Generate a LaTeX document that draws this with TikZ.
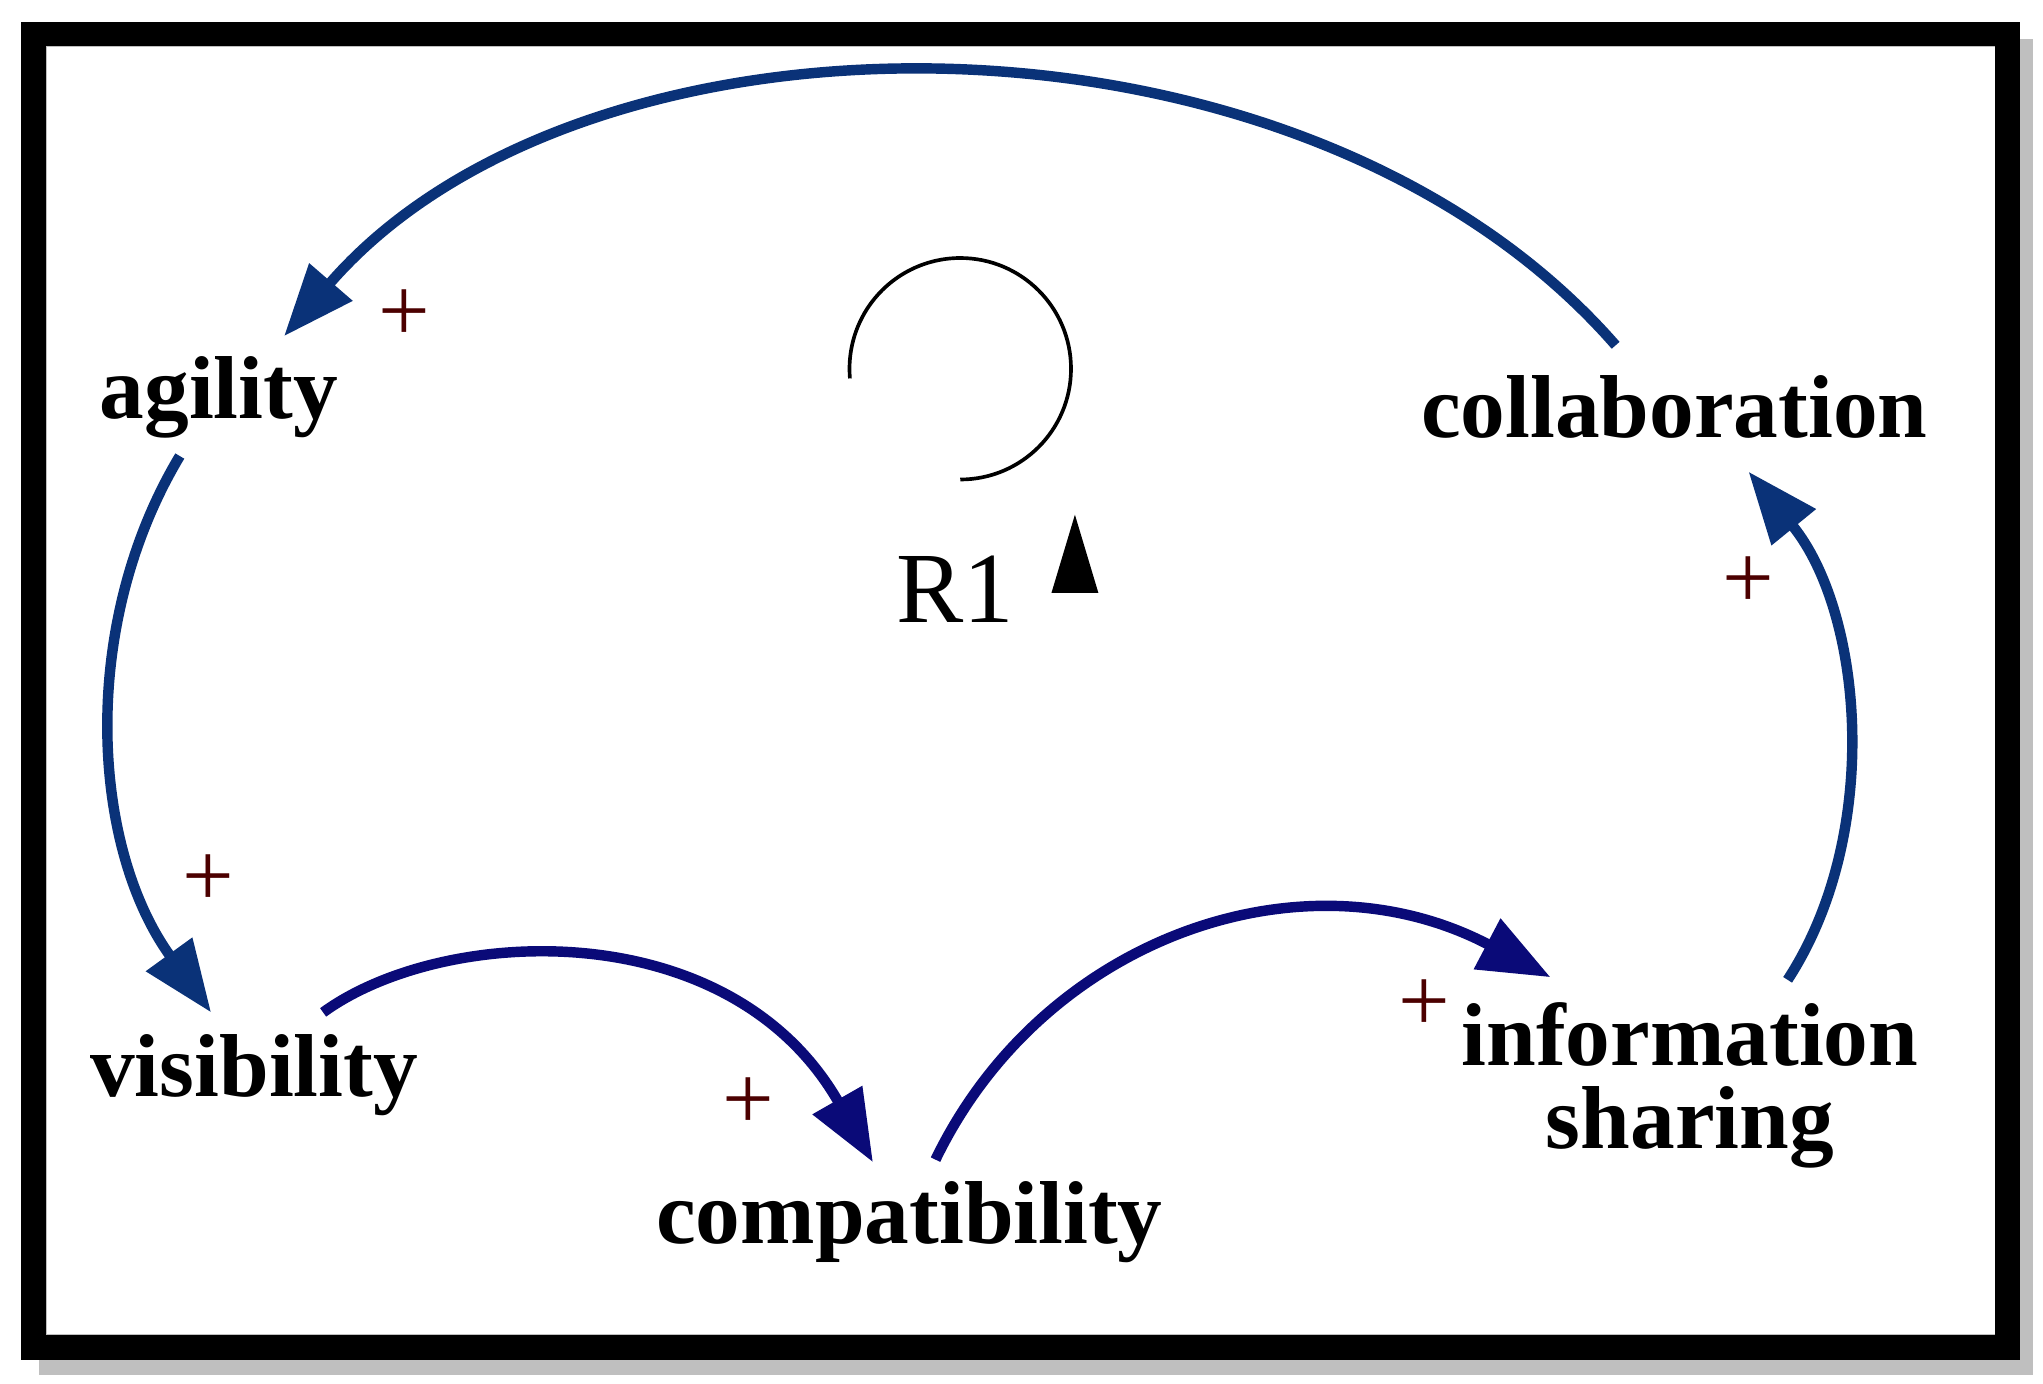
\documentclass[tikz,border=0pt]{standalone}
\usepackage{fontspec}
\setmainfont{Liberation Serif}
\usetikzlibrary{arrows.meta}
\definecolor{cblue}{RGB}{10,50,120}
\definecolor{cnavy}{RGB}{10,10,120}
\begin{document}
\begin{tikzpicture}[x=0.01cm,y=-0.01cm,
  lbl/.style={font=\fontsize{19.5}{22}\selectfont\bfseries, align=center},
  pls/.style={font=\fontsize{20}{22}\selectfont, text=black!70!red},
  link/.style={line width=0.08cm, -{Triangle[length=0.55cm,width=0.42cm]}}]
\useasboundingbox (0,0) rectangle (1568,1062);
\fill[black!25] (30,30) rectangle (1560,1055);
\fill[white] (36,36) rectangle (1532,1024);
\draw[line width=0.19cm] (26,26) rectangle (1541,1034);
\node[lbl] (ag) at (168,305) {agility};
\node[lbl] (co) at (1285,312) {collaboration};
\node[lbl] (vi) at (195,825) {visibility};
\node[lbl] (cp) at (698,938) {compatibility};
\node[lbl] (is) at (1297,833) {information\\[-4pt]sharing};
\coordinate (a1) at (1240,265); \coordinate (a2) at (218,258);
\coordinate (b1) at (138,350); \coordinate (b2) at (162,777);
\coordinate (c1) at (248,777); \coordinate (c2) at (670,892);
\coordinate (d1) at (718,890); \coordinate (d2) at (1190,750);
\coordinate (e1) at (1372,752); \coordinate (e2) at (1342,362);
\draw[link,cblue] (a1) .. controls (1000,-10) and (450,-10) .. (a2);
\draw[link,cblue] (b1) .. controls (60,480) and (70,650) .. (b2);
\draw[link,cnavy] (c1) .. controls (340,710) and (560,700) .. (c2);
\draw[link,cnavy] (d1) .. controls (800,720) and (1000,650) .. (d2);
\draw[link,cblue] (e1) .. controls (1445,640) and (1430,470) .. (e2);
\node[pls] (p1) at (310,242) {+};
\node[pls] (p2) at (160,676) {+};
\node[pls] (p3) at (574,847) {+};
\node[pls] (p4) at (1093,772) {+};
\node[pls] (p5) at (1342,447) {+};
\node[font=\fontsize{22}{24}\selectfont] (r1) at (733,452) {R1};
\draw[line width=0.8pt] (737,368) arc[start angle=90,end angle=-180+170+ -170-5,radius=85];
\fill (825,395) -- (843,455) -- (807,455) -- cycle;
\end{tikzpicture}
\end{document}
